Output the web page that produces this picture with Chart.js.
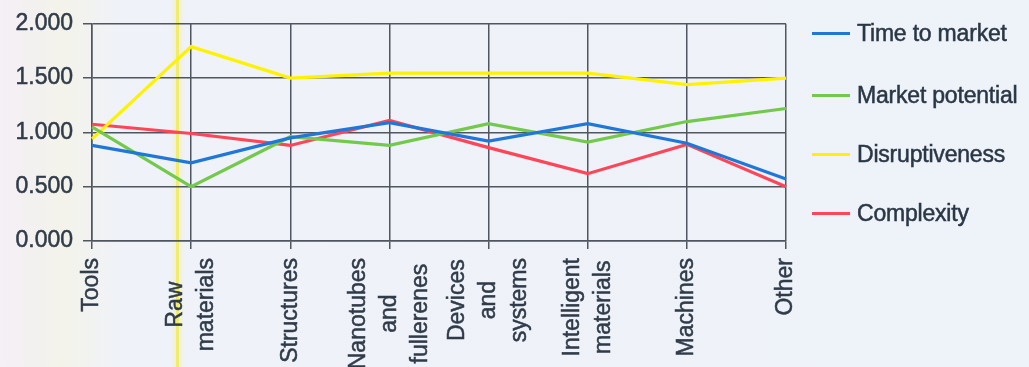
<!DOCTYPE html>
<html>
<head>
<meta charset="utf-8">
<script src="https://cdn.jsdelivr.net/npm/chart.js@4.4.1/dist/chart.umd.min.js"></script>
<style>
  html, body { margin: 0; padding: 0; }
  body {
    width: 1029px; height: 367px; overflow: hidden; position: relative;
    background: linear-gradient(90deg, #f5eff6 0px, #f3f1ef 40px, #f4f3ea 60px, #eff2f8 120px, #eef2f9 100%);
    font-family: "Liberation Sans", Arial, sans-serif;
  }
  #marker {
    position: absolute; left: 176px; top: 0; width: 3px; height: 367px;
    background: #f1ec6c; box-shadow: 0 0 4px 2px rgba(245, 240, 150, 0.45);
  }
  #wrap { position: absolute; left: 0; top: 0; width: 1029px; height: 367px; }
  #legend { position: absolute; left: 812px; top: 0; }
  .item { position: absolute; left: 0; width: 220px; height: 26px; }
  .item .swatch { position: absolute; left: 0; top: 12px; width: 38px; height: 3px; }
  .item .txt {
    position: absolute; left: 45px; top: 0; font-size: 23px; line-height: 26px;
    color: #2a3745; white-space: nowrap; letter-spacing: -0.2px;
    -webkit-text-stroke: 0.5px #2a3745;
  }
</style>
</head>
<body>
<div id="marker"></div>
<div id="wrap"><canvas id="c" width="1029" height="367"></canvas></div>
<div id="legend"></div>
<script>
// Categories (each entry is one tick label, split into lines)
const categories = [
  ["Tools"],
  ["Raw", "materials"],
  ["Structures"],
  ["Nanotubes", "and", "fullerenes"],
  ["Devices", "and", "systems"],
  ["Intelligent", "materials"],
  ["Machines"],
  ["Other"]
];

const seriesNames = ["Time to market", "Market potential", "Disruptiveness", "Complexity"];
const timeToMarket    = [0.88, 0.72, 0.95, 1.09, 0.92, 1.08, 0.90, 0.57];
const marketPotential = [1.05, 0.50, 0.96, 0.88, 1.08, 0.91, 1.10, 1.22];
const disruptiveness  = [0.94, 1.79, 1.50, 1.545, 1.545, 1.545, 1.44, 1.50];
const complexity      = [1.075, 0.99, 0.88, 1.11, 0.86, 0.62, 0.89, 0.50];

const yTicks = [0, 0.5, 1, 1.5, 2];

const colors = ["#1f78d8", "#73c94b", "#fff200", "#ff4658"];
const seriesValues = [timeToMarket, marketPotential, disruptiveness, complexity];

const textColor = "#2f3b48";
const gridColor = "#50565f";
const fontFamily = '"Liberation Sans", Arial, sans-serif';

// Rotated, multi-line category labels: the block is centred on the tick,
// and each line is centred along the longest one
const categoryLabels = {
  id: "categoryLabels",
  afterDraw(chart) {
    const sx = chart.scales.x;
    const ctx = chart.ctx;
    const spacing = 31;
    ctx.save();
    ctx.fillStyle = textColor;
    ctx.strokeStyle = textColor;
    ctx.lineWidth = 0.5;
    ctx.font = "23px " + fontFamily;
    ctx.textAlign = "center";
    ctx.textBaseline = "middle";
    categories.forEach((lines, i) => {
      const px = sx.getPixelForTick(i);
      const n = lines.length;
      const maxW = Math.max(...lines.map(l => ctx.measureText(l).width));
      const yc = sx.top + 17 + maxW / 2;
      lines.forEach((line, j) => {
        const x = px + (j - (n - 1) / 2) * spacing;
        ctx.save();
        ctx.translate(x, yc);
        ctx.rotate(-Math.PI / 2);
        ctx.strokeText(line, 0, 0);
        ctx.fillText(line, 0, 0);
        ctx.restore();
      });
    });
    ctx.restore();
  }
};

new Chart(document.getElementById("c"), {
  type: "line",
  data: {
    labels: categories.map(l => l.join(" ")),
    datasets: seriesNames.map((name, i) => ({
      label: name,
      data: seriesValues[i],
      borderColor: colors[i],
      backgroundColor: colors[i],
      borderWidth: 3.2,
      pointRadius: 0,
      tension: 0,
      fill: false
    }))
  },
  options: {
    responsive: false,
    animation: false,
    layout: { padding: { left: 0, right: 243, top: 22, bottom: 0 } },
    plugins: { legend: { display: false }, tooltip: { enabled: false } },
    scales: {
      x: {
        type: "category",
        offset: false,
        grid: { color: gridColor, lineWidth: 1.5, tickLength: 8, tickColor: gridColor },
        border: { color: gridColor, width: 1.5 },
        ticks: { display: false },
        afterFit(scale) { scale.height = 367 - 241; }
      },
      y: {
        min: 0, max: 2,
        afterBuildTicks(scale) { scale.ticks = yTicks.map(v => ({ value: v })); },
        grid: { color: gridColor, lineWidth: 1.5, tickLength: 9, tickColor: gridColor },
        border: { color: gridColor, width: 1.5 },
        ticks: {
          color: textColor,
          textStrokeColor: textColor,
          textStrokeWidth: 0.5,
          padding: 10,
          font: { family: fontFamily, size: 23 },
          callback: v => Number(v).toFixed(3)
        },
        afterFit(scale) { scale.width = 92; }
      }
    }
  },
  plugins: [categoryLabels]
});

// Legend beside the plot
const legendTops = [20, 82, 141, 200];
const legend = document.getElementById("legend");
seriesNames.forEach((name, i) => {
  const item = document.createElement("div");
  item.className = "item";
  item.style.top = legendTops[i] + "px";
  const sw = document.createElement("div");
  sw.className = "swatch";
  sw.style.background = colors[i];
  const tx = document.createElement("div");
  tx.className = "txt";
  tx.textContent = name;
  item.appendChild(sw);
  item.appendChild(tx);
  legend.appendChild(item);
});
</script>
</body>
</html>
